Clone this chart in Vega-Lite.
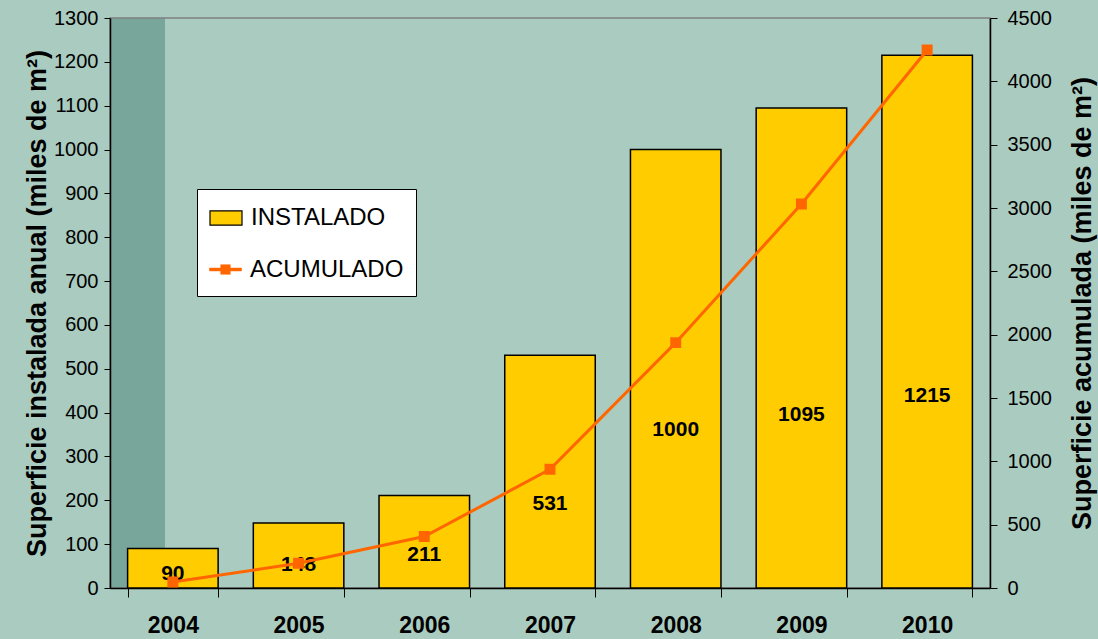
{
  "$schema": "https://vega.github.io/schema/vega-lite/v6.json",
  "width": 880,
  "height": 570,
  "autosize": {"type": "none"},
  "padding": {"left": 110, "top": 18, "right": 108, "bottom": 51},
  "background": "#AACBBF",
  "config": {
    "font": "Liberation Sans",
    "view": {"stroke": "#808080", "strokeWidth": 1.5, "fill": {"gradient": "linear", "x1": 0, "y1": 0, "x2": 1, "y2": 0, "stops": [{"offset": 0, "color": "#78A69A"}, {"offset": 0.0624, "color": "#78A69A"}, {"offset": 0.0626, "color": "#AACBBF"}, {"offset": 1, "color": "#AACBBF"}]}},
    "axis": {
      "domainColor": "#000000",
      "tickColor": "#000000",
      "labelColor": "#000000",
      "titleColor": "#000000",
      "grid": false,
      "labelFont": "Liberation Sans",
      "titleFont": "Liberation Sans"
    }
  },
  "data": {
    "values": [
      {"anio": "2004", "instalado": 90, "acumulado": 47},
      {"anio": "2005", "instalado": 148, "acumulado": 195},
      {"anio": "2006", "instalado": 211, "acumulado": 406},
      {"anio": "2007", "instalado": 531, "acumulado": 937},
      {"anio": "2008", "instalado": 1000, "acumulado": 1937},
      {"anio": "2009", "instalado": 1095, "acumulado": 3032},
      {"anio": "2010", "instalado": 1215, "acumulado": 4247}
    ]
  },
  "encoding": {
    "x": {
      "field": "anio",
      "type": "nominal",
      "scale": {"paddingInner": 0.28, "paddingOuter": 0.14},
      "axis": {
        "title": null,
        "labelAngle": 0,
        "labelFontSize": 23,
        "labelFontWeight": "bold",
        "tickBand": "extent",
        "tickSize": 9,
        "labelPadding": 17,
        "domainWidth": 1.5
      }
    }
  },
  "layer": [
    {
      "layer": [
        {
          "mark": {"type": "bar", "stroke": "#000000", "strokeWidth": 1.5},
          "encoding": {
            "y": {
              "field": "instalado",
              "type": "quantitative",
              "scale": {"domain": [0, 1300]},
              "axis": {
                "title": "Superficie instalada anual (miles de m²)",
                "titleFontSize": 27,
                "titleFontWeight": "bold",
                "titlePadding": 2,
                "labelFontSize": 20,
                "format": "d",
                "values": [0, 100, 200, 300, 400, 500, 600, 700, 800, 900, 1000, 1100, 1200, 1300],
                "tickSize": 6,
                "labelPadding": 6,
                "domainWidth": 1.5
              }
            },
            "fill": {
              "datum": "INSTALADO",
              "type": "nominal",
              "scale": {"domain": ["INSTALADO"], "range": ["#FFCC00"]},
              "legend": {
                "title": "—————",
                "titleOrient": "bottom",
                "titleFontSize": 39,
                "titlePadding": 15,
                "titleLimit": 400,
                "titleColor": "#FFFFFF",
                "orient": "none",
                "legendX": 87,
                "legendY": 171,
                "fillColor": "#FFFFFF",
                "strokeColor": "#000000",
                "padding": 12,
                "symbolSize": 1024,
                "symbolType": "M-1,-0.45H1V0.45H-1Z",
                "symbolStrokeColor": "#000000",
                "symbolStrokeWidth": 1.2,
                "symbolOpacity": 1,
                "labelFontSize": 24,
                "labelColor": "#000000",
                "labelOffset": 8
              }
            }
          }
        },
        {
          "transform": [{"calculate": "datum.instalado * 0.36", "as": "pos"}],
          "mark": {"type": "text", "fontWeight": "bold", "fontSize": 21, "baseline": "middle", "color": "#000000"},
          "encoding": {
            "y": {"field": "pos", "type": "quantitative"},
            "text": {"field": "instalado", "type": "quantitative", "format": "d"}
          }
        }
      ]
    },
    {
      "mark": {
        "type": "line",
        "strokeWidth": 3,
        "point": {"shape": "square", "size": 80, "filled": true, "color": "#FF6600", "opacity": 1}
      },
      "encoding": {
        "y": {
          "field": "acumulado",
          "type": "quantitative",
          "scale": {"domain": [0, 4500]},
          "axis": {
            "orient": "right",
            "title": "Superficie acumulada (miles de m²)",
            "titleAngle": 270,
            "titleFontSize": 27,
            "titleFontWeight": "bold",
            "titlePadding": 45,
            "labelFontSize": 20,
            "format": "d",
            "values": [0, 500, 1000, 1500, 2000, 2500, 3000, 3500, 4000, 4500],
            "tickSize": 7,
            "labelPadding": 10,
            "domainWidth": 1.5
          }
        },
        "stroke": {
          "datum": "ACUMULADO",
          "type": "nominal",
          "scale": {"domain": ["ACUMULADO"], "range": ["#FF6600"]},
          "legend": {
            "title": null,
            "orient": "none",
            "legendX": 87,
            "legendY": 223,
            "padding": 12,
            "symbolSize": 1024,
            "symbolType": "M-1,-0.09H-0.3V-0.3H0.3V-0.09H1V0.09H0.3V0.3H-0.3V0.09H-1Z",
            "symbolFillColor": "#FF6600",
            "symbolStrokeColor": "#FF6600",
            "symbolStrokeWidth": 0.5,
            "symbolOpacity": 1,
            "labelFontSize": 24,
            "labelColor": "#000000",
            "labelOffset": 8
          }
        }
      }
    }
  ],
  "resolve": {"scale": {"y": "independent"}}
}
